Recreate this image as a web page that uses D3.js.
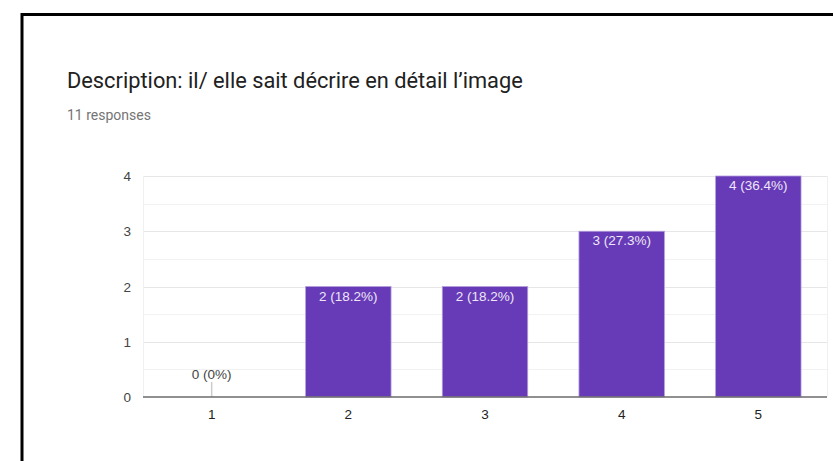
<!DOCTYPE html>
<html>
<head>
<meta charset="utf-8">
<script src="https://cdn.jsdelivr.net/npm/d3@7"></script>
<style>
  body { margin: 0; background: #fff; }
  svg { display: block; }
</style>
</head>
<body>
<div id="chart"></div>
<script>
// data
const categories = ["1", "2", "3", "4", "5"];
const counts     = [0, 2, 2, 3, 4];
const percents   = ["0%", "18.2%", "18.2%", "27.3%", "36.4%"];
const yTicks     = [0, 1, 2, 3, 4];

const width = 833, height = 461;
const margin = {left: 143, right: 6, top: 176, bottom: 64};
const barColor = "#673ab7";
const labelFont = "Arial, 'Liberation Sans', sans-serif";

const svg = d3.select("#chart").append("svg")
  .attr("width", width)
  .attr("height", height);

// frame (screenshot border)
svg.append("line").attr("x1", 21).attr("x2", width).attr("y1", 14.5).attr("y2", 14.5)
  .attr("stroke", "#000").attr("stroke-width", 3);
svg.append("line").attr("x1", 22).attr("x2", 22).attr("y1", 13).attr("y2", height)
  .attr("stroke", "#000").attr("stroke-width", 3);

// header
svg.append("text")
  .attr("x", 67).attr("y", 88)
  .style("font-family", "Roboto, sans-serif")
  .style("font-size", "21.8px")
  .style("fill", "#212121")
  .text("Description: il/ elle sait décrire en détail l’image");

svg.append("text")
  .attr("x", 67).attr("y", 120)
  .style("font-family", "Roboto, sans-serif")
  .style("font-size", "14px")
  .style("fill", "#757575")
  .text("11 responses");

const x = d3.scaleBand()
  .domain(categories)
  .range([margin.left, width - margin.right])
  .paddingInner(0.375)
  .paddingOuter(0.19);

const y = d3.scaleLinear()
  .domain([0, 4])
  .range([height - margin.bottom, margin.top]);

const plot = svg.append("g");

// minor gridlines
plot.selectAll("line.minor")
  .data(d3.range(0.5, 4, 1))
  .enter().append("line")
    .attr("x1", margin.left).attr("x2", width - margin.right)
    .attr("y1", d => Math.round(y(d)) + 0.5).attr("y2", d => Math.round(y(d)) + 0.5)
    .attr("stroke", "#f2f2f2");

// major gridlines
plot.selectAll("line.major")
  .data(yTicks.slice(1))
  .enter().append("line")
    .attr("x1", margin.left).attr("x2", width - margin.right)
    .attr("y1", d => Math.round(y(d)) + 0.5).attr("y2", d => Math.round(y(d)) + 0.5)
    .attr("stroke", "#e6e6e6");

// side lines
[margin.left, width - margin.right].forEach(function(px) {
  plot.append("line")
    .attr("x1", px + 0.5).attr("x2", px + 0.5)
    .attr("y1", y(4)).attr("y2", y(0))
    .attr("stroke", "#f0f0f0");
});

// y labels
svg.selectAll("text.ylab")
  .data(yTicks)
  .enter().append("text")
    .attr("x", 131)
    .attr("y", d => y(d) + 5)
    .attr("text-anchor", "end")
    .style("font-family", labelFont)
    .style("font-size", "13.5px")
    .style("fill", "#444")
    .text(d => d);

// bars
const data = categories.map((c, i) => ({cat: c, v: counts[i], p: percents[i]}));

plot.selectAll("rect.bar")
  .data(data.filter(d => d.v > 0))
  .enter().append("rect")
    .attr("x", d => x(d.cat))
    .attr("y", d => y(d.v))
    .attr("width", x.bandwidth())
    .attr("height", d => y(0) - y(d.v))
    .attr("fill", barColor)
    .attr("stroke", "#b39ddb")
    .attr("stroke-width", 0.8);

// zero-value stub
data.filter(d => d.v === 0).forEach(function(d) {
  const cx = x(d.cat) + x.bandwidth() / 2;
  plot.append("line")
    .attr("x1", cx).attr("x2", cx)
    .attr("y1", y(0) - 15).attr("y2", y(0))
    .attr("stroke", "#cccccc").attr("stroke-width", 1.5);
  plot.append("text")
    .attr("x", cx).attr("y", y(0) - 18)
    .attr("text-anchor", "middle")
    .style("font-family", labelFont)
    .style("font-size", "13.5px")
    .style("fill", "#444")
    .text(d.v + " (" + d.p + ")");
});

// labels inside bars
plot.selectAll("text.blab")
  .data(data.filter(d => d.v > 0))
  .enter().append("text")
    .attr("x", d => x(d.cat) + x.bandwidth() / 2)
    .attr("y", d => y(d.v) + 14)
    .attr("text-anchor", "middle")
    .style("font-family", labelFont)
    .style("font-size", "13.5px")
    .style("fill", "#ede7f6")
    .text(d => d.v + " (" + d.p + ")");

// baseline
plot.append("line")
  .attr("x1", margin.left).attr("x2", width - margin.right)
  .attr("y1", y(0)).attr("y2", y(0))
  .attr("stroke", "#6b6b6b").attr("stroke-width", 1.5);

// x labels
svg.selectAll("text.xlab")
  .data(categories)
  .enter().append("text")
    .attr("x", d => x(d) + x.bandwidth() / 2)
    .attr("y", y(0) + 22)
    .attr("text-anchor", "middle")
    .style("font-family", labelFont)
    .style("font-size", "13.5px")
    .style("fill", "#222")
    .text(d => d);
</script>
</body>
</html>
